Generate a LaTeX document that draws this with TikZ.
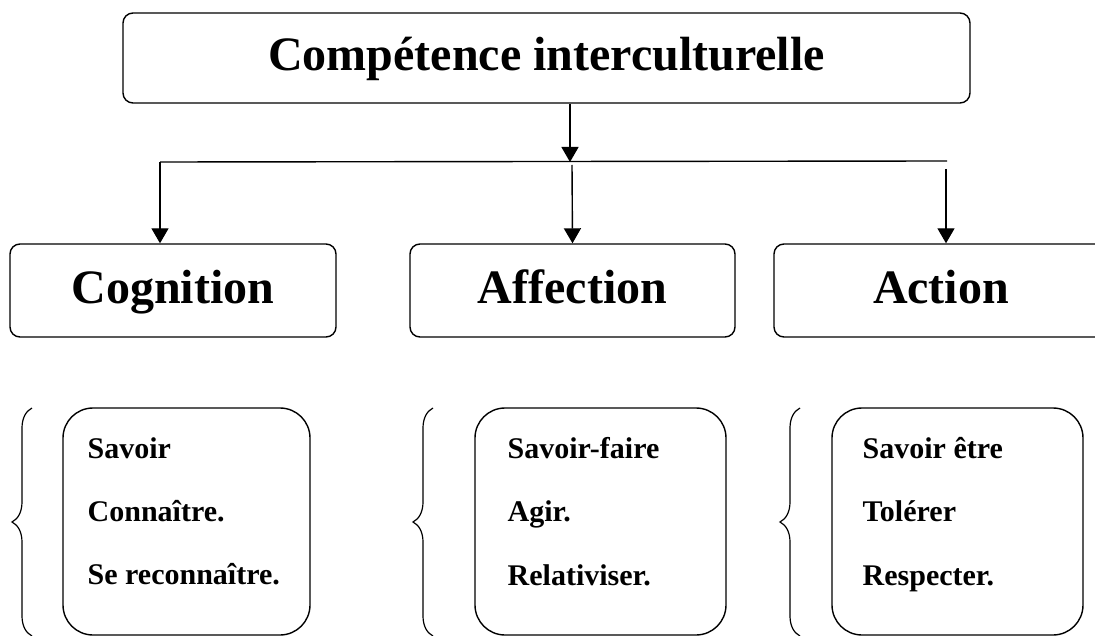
\documentclass[tikz,border=0pt]{standalone}
\usepackage{fontspec}
\setmainfont{Liberation Serif}
\usetikzlibrary{arrows.meta,decorations.pathreplacing}
\begin{document}
\begin{tikzpicture}[x=1pt,y=-1pt,line width=1.4pt,
  box/.style={draw, rounded corners=10pt, inner sep=0pt, text height=36pt, text depth=10pt, font=\bfseries\fontsize{48}{56}\selectfont},
  itembox/.style={draw, rounded corners=30pt, inner sep=0pt},
  item/.style={anchor=base west, inner sep=0pt, font=\bfseries\fontsize{30}{36}\selectfont},
  arr/.style={-{Triangle[width=17pt,length=15pt]}},
  brc/.style={decorate, decoration={brace, amplitude=20pt}, line width=1.2pt}]
\useasboundingbox (0,0) rectangle (1095,636);
\clip (0,0) rectangle (1095,636);
\node[box, minimum width=847pt, minimum height=90pt] (top) at (546.5,58){Compétence interculturelle};
\node[box, minimum width=326pt, minimum height=93pt] (cog) at (173,290.5){Cognition};
\node[box, minimum width=325pt, minimum height=93pt] (aff) at (572.5,290.5){Affection};
\node[box, minimum width=334pt, minimum height=93pt] (act) at (941,290.5){Action};
\coordinate (hub) at (570,162);
\coordinate (lft) at (160,162);
\coordinate (rgt) at (947,161);
\coordinate (mid) at (572,165);
\coordinate (rst) at (946,169);
\draw[arr](top.south -| hub) -- (hub);
\draw[](lft) -- (rgt);
\draw[arr](lft) -- (lft |- cog.north);
\draw[arr](mid) -- (aff.north);
\draw[arr](rst) -- (rst |- act.north);
\node[itembox, minimum width=247pt, minimum height=227pt] (cogit) at (186.5,521.5){};
\node[itembox, minimum width=251pt, minimum height=227pt] (affit) at (600.5,521.5){};
\node[itembox, minimum width=251pt, minimum height=227pt] (actit) at (957.5,521.5){};
\node[item] (cog1) at (87,458){Savoir};
\node[item] (cog2) at (87,521){Connaître.};
\node[item] (cog3) at (87,584){Se reconnaître.};
\node[item] (aff1) at (507,458){Savoir-faire};
\node[item] (aff2) at (507,521){Agir.};
\node[item] (aff3) at (507,585){Relativiser.};
\node[item] (act1) at (862,458){Savoir être};
\node[item] (act2) at (862,521){Tolérer};
\node[item] (act3) at (862,585){Respecter.};
\draw[brc] (32,636) -- (32,408);
\draw[brc] (433,636) -- (433,408);
\draw[brc] (800,636) -- (800,408);
\end{tikzpicture}
\end{document}
